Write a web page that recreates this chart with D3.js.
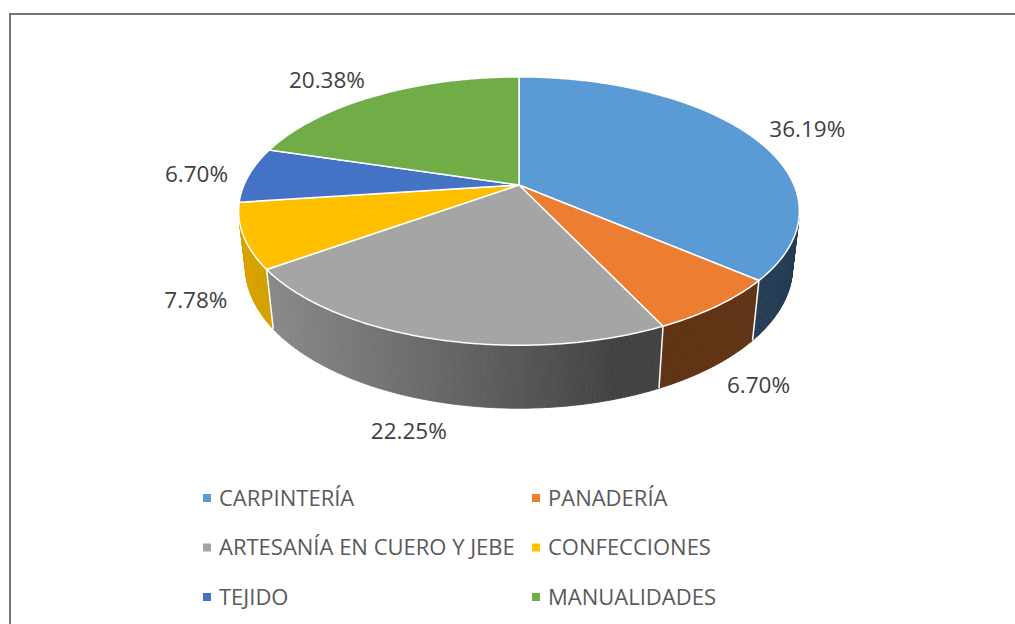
<!DOCTYPE html>
<html>
<head>
<meta charset="utf-8">
<script src="https://cdn.jsdelivr.net/npm/d3@7"></script>
<style>
  html, body { margin: 0; padding: 0; background: #fff; }
  svg { display: block; font-family: "Open Sans", "Liberation Sans", sans-serif; }
</style>
</head>
<body>
<svg id="chart" width="1015" height="624"></svg>
<script>
// chart data
const categories = ["CARPINTERÍA", "PANADERÍA", "ARTESANÍA EN CUERO Y JEBE", "CONFECCIONES", "TEJIDO", "MANUALIDADES"];
const shares = [36.19, 6.70, 22.25, 7.78, 6.70, 20.38];
const colors = ["#5B9BD5", "#ED7D31", "#A5A5A5", "#FFC000", "#4472C4", "#70AD47"];

const width = 1015, height = 624;
const svg = d3.select('#chart');

// frame
svg.append('path')
    .attr('d', `M10,${height} L10,14 L${width},14`)
    .attr('fill', 'none')
    .attr('stroke', '#767676')
    .attr('stroke-width', 2);

// 3d perspective setup (radius = 1 unit)
const cx = 519, cy = 185;
const tilt = 28 * Math.PI / 180;
const sinT = Math.sin(tilt), cosT = Math.cos(tilt);
const dist = 4.545;      // camera distance
const focal = 1250;      // px scale
const depth = 0.231;     // thickness of the pie

function project(theta, r, y) {
    const X = r * Math.sin(theta), Z = r * Math.cos(theta);
    const v = Z * sinT + y * cosT;
    const w = dist + Z * cosT - y * sinT;
    return [cx + focal * X / w, cy - focal * v / w];
}

const pie = d3.pie().sort(null).value(d => d)(shares);
const arcs = pie.map((p, i) => ({ ...p, name: categories[i], color: colors[i] }));

const step = Math.PI / 360;
function range(a0, a1) {
    const pts = [];
    const n = Math.max(1, Math.ceil((a1 - a0) / step));
    for (let k = 0; k <= n; k++) pts.push(a0 + (a1 - a0) * k / n);
    return pts;
}

// side is visible where the wall faces the camera
const visLimit = -1 / (dist * cosT);
const isVisible = t => Math.cos(t) < visLimit;

// light coming from the left and slightly in front
const light = [-0.958, -0.287];
function shade(color, t) {
    const nx = Math.sin(t), nz = Math.cos(t);
    const lit = Math.max(0, nx * light[0] + nz * light[1]);
    const f = 0.4 + 0.45 * lit;
    const c = d3.rgb(color);
    return d3.rgb(c.r * f, c.g * f, c.b * f).formatHex();
}

const walls = svg.append('g').attr('class', 'walls');
arcs.forEach(a => {
    const pts = range(a.startAngle, a.endAngle);
    for (let k = 0; k < pts.length - 1; k++) {
        const t0 = pts[k], t1 = pts[k + 1];
        const tm = (t0 + t1) / 2;
        if (!isVisible(tm)) continue;
        const quad = [project(t0, 1, 0), project(t1, 1, 0), project(t1, 1, -depth), project(t0, 1, -depth)];
        const col = shade(a.color, tm);
        walls.append('path')
            .attr('d', 'M' + quad.map(p => p.join(',')).join('L') + 'Z')
            .attr('fill', col)
            .attr('stroke', col)
            .attr('stroke-width', 0.8);
    }
});

// white separators on the side
arcs.forEach(a => {
    if (!isVisible(a.startAngle)) return;
    const p0 = project(a.startAngle, 1, 0), p1 = project(a.startAngle, 1, -depth);
    walls.append('line')
        .attr('x1', p0[0]).attr('y1', p0[1])
        .attr('x2', p1[0]).attr('y2', p1[1])
        .attr('stroke', '#fff')
        .attr('stroke-width', 1.5);
});

// top faces
const tops = svg.append('g').attr('class', 'tops');
arcs.forEach(a => {
    const pts = [project(0, 0, 0)].concat(range(a.startAngle, a.endAngle).map(t => project(t, 1, 0)));
    tops.append('path')
        .attr('d', 'M' + pts.map(p => p.join(',')).join('L') + 'Z')
        .attr('fill', a.color)
        .attr('stroke', '#fff')
        .attr('stroke-width', 1.5)
        .attr('stroke-linejoin', 'round');
});

// data labels, outside the pie
const labels = svg.append('g').attr('class', 'labels');
arcs.forEach(a => {
    const mid = (a.startAngle + a.endAngle) / 2;
    const front = Math.cos(mid) < 0;
    const yLevel = front ? -depth : 0;
    const p = project(mid, 1, yLevel);
    const c = project(0, 0, yLevel);
    let dx = p[0] - c[0], dy = p[1] - c[1];
    const len = Math.hypot(dx, dy);
    dx /= len; dy /= len;

    const txt = labels.append('text')
        .attr('text-anchor', 'middle')
        .attr('dy', '0.36em')
        .attr('fill', '#404040')
        .style('font-size', '22.5px')
        .text(a.data.toFixed(2) + '%');
    const w = txt.node().getComputedTextLength();
    const h = 17;
    const gap = front ? 24 : 21;
    txt.attr('x', p[0] + dx * gap + dx * w / 2)
       .attr('y', p[1] + dy * gap + dy * h / 2);
});

// legend
const col = d3.scaleOrdinal().domain([0, 1]).range([203, 532]);
const row = d3.scaleLinear().domain([0, 1]).range([498, 547.5]);
const legend = svg.append('g').attr('class', 'legend');
categories.forEach((name, i) => {
    const g = legend.append('g')
        .attr('transform', `translate(${col(i % 2)},${row(Math.floor(i / 2))})`);
    g.append('rect')
        .attr('x', 0).attr('y', -4)
        .attr('width', 8).attr('height', 8)
        .attr('fill', colors[i]);
    g.append('text')
        .attr('x', 16)
        .attr('dy', '0.36em')
        .attr('fill', '#595959')
        .style('font-size', '22px')
        .text(name);
});
</script>
</body>
</html>
